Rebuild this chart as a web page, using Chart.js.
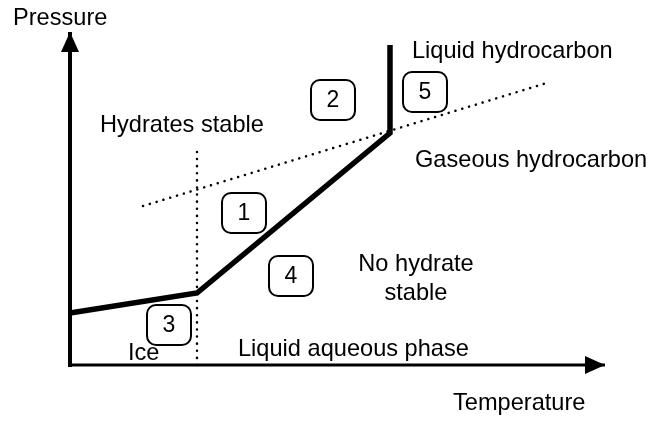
<!DOCTYPE html>
<html>
<head>
<meta charset="utf-8">
<script src="https://cdn.jsdelivr.net/npm/chart.js@4"></script>
<style>
  html, body { margin: 0; padding: 0; background: #fff; }
  #wrap { width: 653px; height: 421px; }
</style>
</head>
<body>
<div id="wrap"><canvas id="phase"></canvas></div>
<script>
// schematic units: temperature / pressure, origin at the axes corner
const boundaryT = [0, 127, 320, 320];
const boundaryP = [52, 72, 232, 320];

const iceLineT = [127, 127];
const iceLineP = [0, 215];

const hcLineT = [73, 480];
const hcLineP = [159, 283];

const xAxisT = [-2, 535];
const xAxisP = [0, 0];
const yAxisT = [0, 0];
const yAxisP = [-2, 333];

const regionNames = ['1', '2', '3', '4', '5'];
const regionT = [174, 263, 99, 221, 355];
const regionP = [152, 265, 40, 89, 273];

const labelText = ['Pressure', 'Hydrates stable', 'Liquid hydrocarbon', 'Gaseous hydrocarbon',
  'No hydrate', 'stable', 'Ice', 'Liquid aqueous phase', 'Temperature'];
const labelT = [-57, 30, 342, 345, 346, 346, 58, 168, 383];
const labelP = [340, 233, 307, 198, 94, 65, 5, 9, -45];
const labelAlign = ['left', 'left', 'left', 'left', 'center', 'center', 'left', 'left', 'left'];

const FONT = '"Liberation Sans", Arial, Helvetica, sans-serif';

function pts(ts, ps) {
  return ts.map((t, i) => ({ x: t, y: ps[i] }));
}

const arrowHeads = {
  id: 'arrowHeads',
  afterDatasetsDraw(chart) {
    const c = chart.ctx;
    chart.data.datasets.forEach((ds, i) => {
      if (!ds.arrow) return;
      const meta = chart.getDatasetMeta(i);
      const n = meta.data.length;
      const a = meta.data[n - 2], b = meta.data[n - 1];
      const ang = Math.atan2(b.y - a.y, b.x - a.x);
      const len = 20, half = 9;
      c.save();
      c.translate(b.x, b.y);
      c.rotate(ang);
      c.beginPath();
      c.moveTo(0, 0);
      c.lineTo(-len, -half);
      c.lineTo(-len, half);
      c.closePath();
      c.fillStyle = '#000';
      c.fill();
      c.restore();
    });
  }
};

const annotations = {
  id: 'annotations',
  afterDatasetsDraw(chart) {
    const c = chart.ctx;
    const xs = chart.scales.x, ys = chart.scales.y;
    c.save();
    // numbered regions
    c.strokeStyle = '#000';
    c.lineWidth = 2;
    c.fillStyle = '#000';
    c.font = '23px ' + FONT;
    c.textAlign = 'center';
    c.textBaseline = 'middle';
    regionNames.forEach((name, i) => {
      const cx = xs.getPixelForValue(regionT[i]);
      const cy = ys.getPixelForValue(regionP[i]);
      const w = 44, h = 40;
      c.beginPath();
      c.roundRect(cx - w / 2, cy - h / 2, w, h, 9);
      c.stroke();
      c.fillText(name, cx, cy + 1);
    });
    // phase labels
    c.font = '23.6px ' + FONT;
    c.textBaseline = 'alphabetic';
    labelText.forEach((txt, i) => {
      c.textAlign = labelAlign[i];
      c.fillText(txt, xs.getPixelForValue(labelT[i]), ys.getPixelForValue(labelP[i]));
    });
    c.restore();
  }
};

new Chart(document.getElementById('phase'), {
  type: 'scatter',
  data: {
    datasets: [
      {
        data: pts(hcLineT, hcLineP),
        showLine: true,
        borderColor: '#000',
        borderWidth: 2.5,
        borderDash: [0.1, 7],
        borderCapStyle: 'round',
        pointRadius: 0
      },
      {
        data: pts(iceLineT, iceLineP),
        showLine: true,
        borderColor: '#000',
        borderWidth: 2.5,
        borderDash: [0.1, 7],
        borderCapStyle: 'round',
        pointRadius: 0
      },
      {
        data: pts(boundaryT, boundaryP),
        showLine: true,
        borderColor: '#000',
        borderWidth: 5.5,
        borderJoinStyle: 'miter',
        pointRadius: 0
      },
      {
        data: pts(xAxisT, xAxisP),
        showLine: true,
        arrow: true,
        borderColor: '#000',
        borderWidth: 3,
        pointRadius: 0
      },
      {
        data: pts(yAxisT, yAxisP),
        showLine: true,
        arrow: true,
        borderColor: '#000',
        borderWidth: 4,
        pointRadius: 0
      }
    ]
  },
  options: {
    responsive: true,
    maintainAspectRatio: false,
    animation: false,
    layout: { padding: 0 },
    scales: {
      x: { type: 'linear', min: -70, max: 583, display: false },
      y: { type: 'linear', min: -56, max: 365, display: false }
    },
    plugins: {
      legend: { display: false },
      tooltip: { enabled: false }
    }
  },
  plugins: [arrowHeads, annotations]
});
</script>
</body>
</html>
